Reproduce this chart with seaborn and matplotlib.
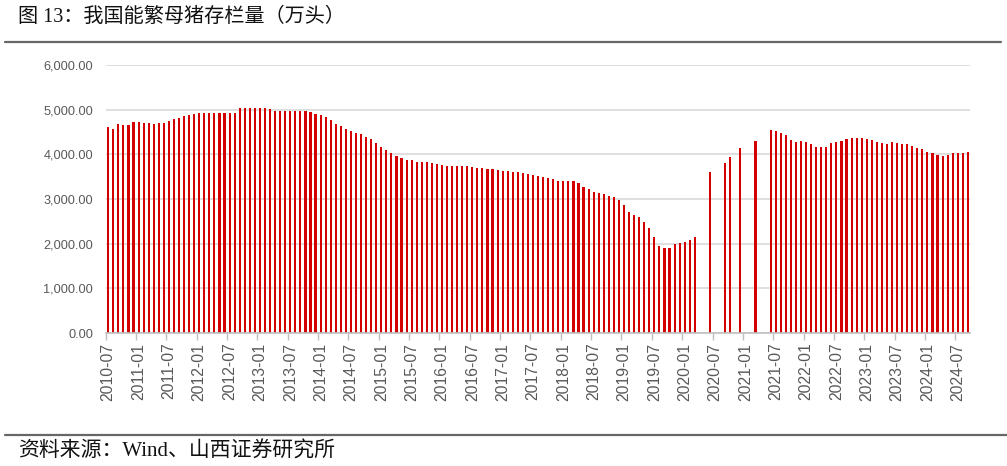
import numpy as np
import pandas as pd
import matplotlib
matplotlib.use("Agg")
import matplotlib.pyplot as plt
from matplotlib.lines import Line2D
from matplotlib import font_manager
import seaborn as sns

# ---------------- data ----------------
months = list(pd.period_range("2010-07", "2024-09", freq="M").strftime("%Y-%m"))

values = [
    # 2010-07 .. 2011-06
    4617, 4557, 4676, 4661, 4646, 4721, 4713, 4706, 4691, 4683, 4691, 4698,
    # 2011-07 .. 2012-06
    4750, 4780, 4818, 4855, 4877, 4907, 4920, 4925, 4925, 4928, 4928, 4930,
    # 2012-07 .. 2013-06
    4928, 4932, 5041, 5048, 5048, 5048, 5048, 5034, 5004, 4981, 4974, 4974,
    # 2013-07 .. 2014-06
    4974, 4974, 4966, 4959, 4944, 4900, 4880, 4840, 4765, 4669, 4624, 4572,
    # 2014-07 .. 2015-06
    4512, 4483, 4460, 4393, 4349, 4259, 4155, 4095, 4021, 3954, 3909, 3879,
    # 2015-07 .. 2016-06
    3865, 3835, 3835, 3827, 3805, 3783, 3760, 3738, 3738, 3745, 3738, 3738,
    # 2016-07 .. 2017-06
    3723, 3701, 3686, 3678, 3663, 3641, 3634, 3619, 3611, 3611, 3589, 3567,
    # 2017-07 .. 2018-06
    3537, 3507, 3485, 3470, 3447, 3410, 3403, 3403, 3403, 3351, 3269, 3224,
    # 2018-07 .. 2019-06
    3157, 3127, 3112, 3075, 3038, 2971, 2867, 2718, 2651, 2591, 2480, 2360,
    # 2019-07 .. 2020-06
    2152, 1951, 1899, 1906, 1988, 2025, 2048, 2085, 2152, None, None, 3611,
    # 2020-07 .. 2021-06
    None, None, 3805, 3932, None, 4140, None, None, 4289, None, None, 4542,
    # 2021-07 .. 2022-06
    4520, 4483, 4438, 4326, 4274, 4304, 4267, 4237, 4170, 4155, 4170, 4252,
    # 2022-07 .. 2023-06
    4281, 4296, 4341, 4356, 4356, 4371, 4341, 4319, 4281, 4259, 4229, 4274,
    # 2023-07 .. 2024-06
    4244, 4222, 4222, 4185, 4133, 4125, 4051, 4021, 3991, 3969, 3984, 4021,
    # 2024-07 .. 2024-09
    4021, 4021, 4043,
]

tick_labels = months[::6]
y_ticks = [0, 1000, 2000, 3000, 4000, 5000, 6000]

title = "图 13：我国能繁母猪存栏量（万头）"
source = "资料来源：Wind、山西证券研究所"

# ---------------- plot ----------------
sns.set_theme(style="white")
plt.rcParams["font.family"] = ["Liberation Sans", "Noto Sans CJK SC"]

names = {f.name for f in font_manager.fontManager.ttflist}
ytick_font = "Liberation Sans Narrow" if "Liberation Sans Narrow" in names else "Liberation Sans"
ytick_size = 11.2 if ytick_font == "Liberation Sans Narrow" else 9.2

W, H = 1007, 466
fig = plt.figure(figsize=(W / 100, H / 100), dpi=100)
fig.patch.set_facecolor("white")

x0, x1 = 105.7, 970.4
y_top, y_bot = 65, 333
ax = fig.add_axes([x0 / W, 1 - y_bot / H, (x1 - x0) / W, (y_bot - y_top) / H])

df = pd.DataFrame({"month": months, "value": values}).dropna()
sns.barplot(data=df, x="month", y="value", order=months, color="#d40000",
            saturation=1, width=0.42, errorbar=None, ax=ax, zorder=2,
            linewidth=0, edgecolor="none")

ax.set_xlim(-0.5, len(months) - 0.5)
ax.set_ylim(0, 6000)
ax.set_yticks(y_ticks)
ax.set_yticklabels([f"{v:,.2f}" for v in y_ticks])
ax.yaxis.grid(True, color="#d9d9d9", lw=1.2)
ax.xaxis.grid(False)
ax.set_axisbelow(True)

ax.set_xticks(range(0, len(months), 6))
ax.set_xticklabels(tick_labels, rotation=90)
ax.set_xticks(np.arange(-0.5, len(months), 6), minor=True)
ax.tick_params(axis="x", which="major", length=0, pad=7, labelsize=11.3,
               labelcolor="#595959")
ax.tick_params(axis="x", which="minor", length=5, color="#bfbfbf", width=1,
               direction="out", bottom=True)
ax.tick_params(axis="y", length=0, pad=9, labelcolor="#595959")
for lab in ax.get_yticklabels():
    lab.set_family(ytick_font)
    lab.set_fontsize(ytick_size)

ax.set_xlabel("")
ax.set_ylabel("")
for s in ["top", "right", "left"]:
    ax.spines[s].set_visible(False)
ax.spines["bottom"].set_color("#bfbfbf")
ax.spines["bottom"].set_linewidth(1.2)
ax.spines["bottom"].set_zorder(3)

serif_cjk = ["Liberation Serif", "Noto Sans CJK SC"]
fig.text(18 / W, 1 - 17 / H, title, family=serif_cjk, fontsize=14.5,
         va="center", ha="left", color="#111111")
fig.text(18 / W, 1 - 452 / H, source, family=serif_cjk, fontsize=15,
         va="center", ha="left", color="#111111")

fig.add_artist(Line2D([5 / W, 1001 / W], [1 - 42 / H] * 2, color="#666666", lw=1.6))
fig.add_artist(Line2D([5 / W, 1007 / W], [1 - 435 / H] * 2, color="#666666", lw=1.6))

fig.savefig("out.png", dpi=100, facecolor="white")
